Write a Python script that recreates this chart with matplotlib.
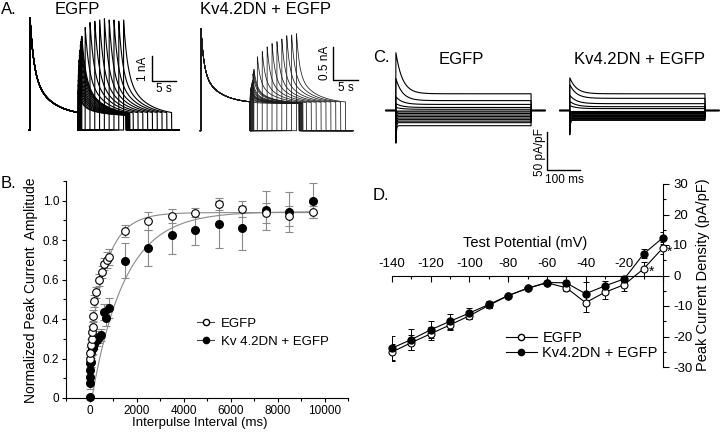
import numpy as np
import matplotlib.pyplot as plt
from matplotlib.lines import Line2D
from matplotlib.ticker import MultipleLocator

plt.rcParams['font.family'] = ['Liberation Sans', 'DejaVu Sans']
plt.rcParams['axes.unicode_minus'] = False

W, H = 720, 434

# ---- A: recovery from inactivation, raw traces ----
a_intervals = [0.01, 0.02, 0.04, 0.06, 0.08, 0.1, 0.15, 0.2, 0.3, 0.4, 0.5, 0.6, 0.7, 0.8,
               1.5, 2.5, 3.5, 4.5, 5.5, 6.5, 7.5, 8.5, 9.5]  # s
egfp_a_peak = [1.5, 1.6, 1.8, 2.0, 2.2, 2.4, 2.6, 2.8, 3.0, 3.2, 3.4, 3.55, 3.65, 3.75,
               4.1, 4.3, 4.35, 4.4, 4.45, 4.4, 4.4, 4.35, 4.4]  # nA
kv_a_peak = [0.45, 0.5, 0.53, 0.57, 0.6, 0.62, 0.64, 0.66, 0.7, 0.73, 0.76, 0.86, 0.9, 0.93,
             1.12, 1.2, 1.27, 1.32, 1.35, 1.39, 1.44, 1.45, 1.47]  # nA
# prepulse decay: fast amp (nA), fast tau (s), slow amp, slow tau, steady level
egfp_a_decay = [2.2, 0.8, 1.72, 4.0, 0.56]
kv_a_decay = [0.65, 0.6, 0.485, 3.5, 0.41]

# ---- B: normalized recovery ----
egfp_b_x = [20, 40, 70, 100, 115, 130, 155, 185, 280, 390, 530, 610, 740, 820,
            1500, 2500, 3500, 4500, 5500, 6500, 7500, 8500, 9500]
egfp_b_y = [0.2, 0.23, 0.27, 0.30, 0.335, 0.36, 0.415, 0.49, 0.535, 0.60, 0.64, 0.68, 0.70, 0.715,
            0.848, 0.897, 0.924, 0.94, 0.983, 0.957, 0.938, 0.924, 0.941]
egfp_b_err = [0.03, 0.03, 0.03, 0.03, 0.03, 0.03, 0.03, 0.03, 0.03, 0.03, 0.03, 0.03, 0.04, 0.04,
              0.03, 0.045, 0.035, 0.025, 0.03, 0.04, 0.05, 0.05, 0.03]
kv_b_x = [0, 10, 20, 30, 40, 60, 80, 100, 150, 200, 300, 420, 510, 600, 720, 820,
          1500, 2500, 3500, 4500, 5500, 6500, 7500, 8500, 9500]
kv_b_y = [0.005, 0.077, 0.108, 0.14, 0.178, 0.185, 0.234, 0.25, 0.255, 0.276, 0.293, 0.31, 0.32,
          0.436, 0.404, 0.458, 0.697, 0.761, 0.828, 0.854, 0.880, 0.862, 0.951, 0.944, 1.0]
kv_b_err = [0.0, 0.03, 0.03, 0.03, 0.03, 0.03, 0.03, 0.03, 0.03, 0.03, 0.03, 0.03, 0.03, 0.04,
            0.04, 0.05, 0.09, 0.09, 0.10, 0.08, 0.12, 0.11, 0.10, 0.10, 0.09]
egfp_fit = [0.94, 0.69, 735]   # plateau, amplitude, tau (ms)
kv_fit = [0.945, 100, 1400]    # plateau, delay (ms), tau (ms)

# ---- C: current traces per voltage step ----
c_volts = list(range(-140, 1, 10))
egfp_c_ss = [-20, -16, -14, -12, -10, -8, -6, -4, -2, -0.7, 1.6, 4, 8, 13, 22]
egfp_c_peak = [-43, -38, -34, -30, -26, -22, -18, -14, -10, -6, 4, 9, 18, 42, 76]
kv_c_ss = [-13, -12, -10.5, -9, -8, -6.5, -5, -4, -2.6, -1.3, 2.5, 5, 9, 16, 22]
kv_c_peak = [-32, -29, -26, -23, -20, -17, -14, -11, -8, -5, 6.5, 12, 20, 34, 43]

# ---- D: I-V ----
d_volts = list(range(-140, 1, 10))
egfp_d = [-25.1, -22.0, -19.1, -16.2, -13.2, -9.8, -6.6, -4.2, -2.4, -4.0, -8.9, -5.5, -3.0, 2.2, 9.1]
egfp_d_err = [2.8, 2.5, 2.2, 1.8, 1.2, 0.8, 0.5, 0.4, 0.5, 1.2, 3.2, 2.3, 2.2, 2.2, 2.0]
kv_d = [-23.8, -21.0, -17.8, -15.0, -12.3, -9.5, -6.6, -4.2, -2.3, -2.4, -6.0, -3.4, -1.1, 7.1, 12.4]
kv_d_err = [4.0, 3.5, 2.8, 2.5, 1.8, 1.2, 0.5, 0.4, 0.5, 0.5, 3.8, 1.5, 1.0, 1.5, 2.0]


fig = plt.figure(figsize=(7.2, 4.34), dpi=100)


def px_axes(x0, y0, x1, y1):
    return fig.add_axes([x0 / W, 1 - y1 / H, (x1 - x0) / W, (y1 - y0) / H])


def px_text(x, y, s, **kw):
    return fig.text(x / W, 1 - y / H, s, **kw)


def trace_axes(box, ox, sx, oy, sy):
    # axes where data units map to pixels: ox/oy = pixel of data 0, sx/sy = px per unit
    x0, y0, x1, y1 = box
    ax = px_axes(*box)
    ax.set_xlim((x0 - ox) / sx, (x1 - ox) / sx)
    ax.set_ylim((oy - y1) / sy, (oy - y0) / sy)
    ax.axis('off')
    return ax


def a_sweep(iv, peak, dec):
    a1, t1, a2, t2, c = dec
    ts = 10 + iv
    t = np.union1d(np.arange(-0.2, 31, 0.01), [0, 10, ts, ts + 10])
    y = np.zeros_like(t)
    m = (t >= 0) & (t < 10)
    y[m] = c + a1 * np.exp(-t[m] / t1) + a2 * np.exp(-t[m] / t2)
    m = (t >= ts) & (t < ts + 10)
    tt = t[m] - ts
    w = (a1 * np.exp(-tt / t1) + a2 * np.exp(-tt / t2)) / (a1 + a2)
    y[m] = c + (peak - c) * w
    return t, y


def c_sweep(ss, pk):
    t = np.union1d(np.arange(0, 482, 0.5), [30, 440])
    y = np.zeros_like(t)
    m = (t >= 30) & (t < 440)
    tau = 20 if pk > ss else 1.5
    y[m] = ss + (pk - ss) * np.exp(-(t[m] - 30) / tau)
    return t, y


# ---------- panel A ----------
ax_a1 = trace_axes((20, 5, 192, 140), 30, 4.8, 130, 25)
for iv, pk in zip(a_intervals, egfp_a_peak):
    t, y = a_sweep(iv, pk, egfp_a_decay)
    ax_a1.plot(t, y, color='k', lw=0.8)
ax_a1.plot([25.35, 25.35, 30.35], [2.96, 1.96, 1.96], color='k', lw=1)

ax_a2 = trace_axes((192, 5, 372, 140), 201, 4.9, 130.7, 66)
for iv, pk in zip(a_intervals, kv_a_peak):
    t, y = a_sweep(iv, pk, kv_a_decay)
    ax_a2.plot(t, y, color='#1a1a1a', lw=0.55)
ax_a2.plot([27, 27, 32], [1.27, 0.77, 0.77], color='k', lw=1)

px_text(1, 10, 'A.', fontsize=12, va='center')
px_text(77, 10, 'EGFP', fontsize=12, ha='center', va='center')
px_text(265, 10, 'Kv4.2DN + EGFP', fontsize=12, ha='center', va='center')
px_text(143, 69, '1 nA', fontsize=8.5, rotation=90, ha='center', va='center')
px_text(164, 89, '5 s', fontsize=8.5, ha='center', va='center')
px_text(325, 63, '0.5 nA', fontsize=8.5, rotation=90, ha='center', va='center')
px_text(346, 88, '5 s', fontsize=8.5, ha='center', va='center')

# ---------- panel C ----------
ax_c = trace_axes((376, 40, 720, 185), 386, 0.33, 110.5, 0.76)
for ss, pk in zip(egfp_c_ss, egfp_c_peak):
    t, y = c_sweep(ss, pk)
    ax_c.plot(t, y, color='k', lw=0.8)
for ss, pk in zip(kv_c_ss, kv_c_peak):
    t, y = c_sweep(ss, pk)
    ax_c.plot(t + 527, y, color='k', lw=0.8)
ax_c.plot([488, 488, 588], [-28.3, -78.3, -78.3], color='k', lw=1)

px_text(373, 58, 'C.', fontsize=12, va='center')
px_text(461, 59, 'EGFP', fontsize=12, ha='center', va='center')
px_text(640, 59, 'Kv4.2DN + EGFP', fontsize=12, ha='center', va='center')
px_text(540, 152, '50 pA/pF', fontsize=8.5, rotation=90, ha='center', va='center')
px_text(564, 180, '100 ms', fontsize=8.5, ha='center', va='center')

# ---------- panel B ----------
ax_b = px_axes(66, 181, 348, 398)
tf = np.linspace(0, 9500, 400)
ax_b.plot(tf, egfp_fit[0] - egfp_fit[1] * np.exp(-tf / egfp_fit[2]), color='#8a8a8a', lw=0.8)
tk = tf[tf >= kv_fit[1]]
ax_b.plot(tk, kv_fit[0] * (1 - np.exp(-(tk - kv_fit[1]) / kv_fit[2])), color='#8a8a8a', lw=0.8)
ax_b.errorbar(kv_b_x, kv_b_y, yerr=kv_b_err, fmt='none', ecolor='#8a8a8a',
              elinewidth=0.8, capsize=3, capthick=0.8)
ax_b.errorbar(egfp_b_x, egfp_b_y, yerr=egfp_b_err, fmt='none', ecolor='#8a8a8a',
              elinewidth=0.8, capsize=3, capthick=0.8)
ax_b.plot(kv_b_x, kv_b_y, 'o', color='k', ms=5.5, clip_on=False, zorder=3)
ax_b.plot(egfp_b_x, egfp_b_y, 'o', mfc='white', mec='k', mew=0.8, ms=5.5, clip_on=False, zorder=3)
ax_b.set_xlim(-1000, 11000)
ax_b.set_ylim(0, 1.1)
ax_b.spines['top'].set_visible(False)
ax_b.spines['right'].set_visible(False)
ax_b.set_xticks(range(0, 10001, 2000))
ax_b.set_xticklabels([str(v) for v in range(0, 10001, 2000)])
ax_b.xaxis.set_minor_locator(MultipleLocator(1000))
ax_b.set_yticks([0, 0.2, 0.4, 0.6, 0.8, 1.0])
ax_b.set_yticklabels(['0', '0.2', '0.4', '0.6', '0.8', '1.0'])
ax_b.yaxis.set_minor_locator(MultipleLocator(0.1))
ax_b.tick_params(which='major', direction='out', length=3, width=0.8, labelsize=8.5, pad=2)
ax_b.tick_params(which='minor', direction='out', length=2, width=0.8)
px_text(1, 184, 'B.', fontsize=12, va='center')
px_text(31, 290, 'Normalized Peak Current  Amplitude', fontsize=10, rotation=90,
        ha='center', va='center')
px_text(200, 423, 'Interpulse Interval (ms)', fontsize=9.5, ha='center', va='center')

b_handles = [Line2D([], [], color='#444444', lw=0.8, marker='o', mfc='white', mec='k', ms=4.5),
             Line2D([], [], color='#444444', lw=0.8, marker='o', mfc='k', mec='k', ms=4.5)]
ax_b.legend(b_handles, ['EGFP', 'Kv 4.2DN + EGFP'], loc='center left',
            bbox_to_anchor=(197 / W, 1 - 332.5 / H), bbox_transform=fig.transFigure,
            frameon=False, fontsize=9.5, handlelength=1.3, handletextpad=0.5,
            labelspacing=0.45, borderpad=0, borderaxespad=0, numpoints=1)

# ---------- panel D ----------
ax_d = px_axes(392, 184, 663, 367)
ax_d.errorbar(d_volts, egfp_d, yerr=egfp_d_err, fmt='none', ecolor='k',
              elinewidth=0.7, capsize=2.5, capthick=0.7)
ax_d.errorbar(d_volts, kv_d, yerr=kv_d_err, fmt='none', ecolor='k',
              elinewidth=0.7, capsize=2.5, capthick=0.7)
ax_d.plot(d_volts, egfp_d, '-o', color='k', lw=0.8, mfc='white', mew=0.8, ms=5, clip_on=False, zorder=3)
ax_d.plot(d_volts, kv_d, '-o', color='k', lw=0.8, ms=5, clip_on=False, zorder=3)
ax_d.set_xlim(-140, 0)
ax_d.set_ylim(-30, 30)
ax_d.spines['left'].set_visible(False)
ax_d.spines['top'].set_visible(False)
ax_d.spines['bottom'].set_position(('data', 0))
ax_d.yaxis.tick_right()
ax_d.set_yticks(range(-30, 31, 10))
ax_d.set_yticklabels([str(v) for v in range(-30, 31, 10)])
ax_d.yaxis.set_minor_locator(MultipleLocator(5))
ax_d.set_xticks(range(-140, 1, 20))
ax_d.xaxis.set_minor_locator(MultipleLocator(10))
ax_d.tick_params(axis='x', labelbottom=False)
ax_d.tick_params(which='major', direction='out', length=4, width=0.8, labelsize=9.5)
ax_d.tick_params(which='minor', direction='out', length=2.5, width=0.8)
for v in range(-140, -19, 20):
    ax_d.annotate(str(v), (v, 0), xytext=(0, 4), textcoords='offset points',
                  ha='center', va='bottom', fontsize=9.5)
px_text(525, 243, 'Test Potential (mV)', fontsize=10.5, ha='center', va='center')
px_text(703, 275, 'Peak Current Density (pA/pF)', fontsize=10.5, rotation=90,
        ha='center', va='center')
px_text(652, 272, '*', fontsize=10, ha='center', va='center')
px_text(670, 252, '*', fontsize=10, ha='center', va='center')
px_text(373, 195, 'D.', fontsize=12, va='center')

d_handles = [Line2D([], [], color='k', lw=0.8, marker='o', mfc='white', mec='k', ms=4.5),
             Line2D([], [], color='k', lw=0.8, marker='o', mfc='k', mec='k', ms=4.5)]
ax_d.legend(d_handles, ['EGFP', 'Kv4.2DN + EGFP'], loc='center left',
            bbox_to_anchor=(506 / W, 1 - 345.5 / H), bbox_transform=fig.transFigure,
            frameon=False, fontsize=10.5, handlelength=2.1, handletextpad=0.4,
            labelspacing=0.1, borderpad=0, borderaxespad=0, numpoints=1)

fig.savefig('out.png', dpi=100)
